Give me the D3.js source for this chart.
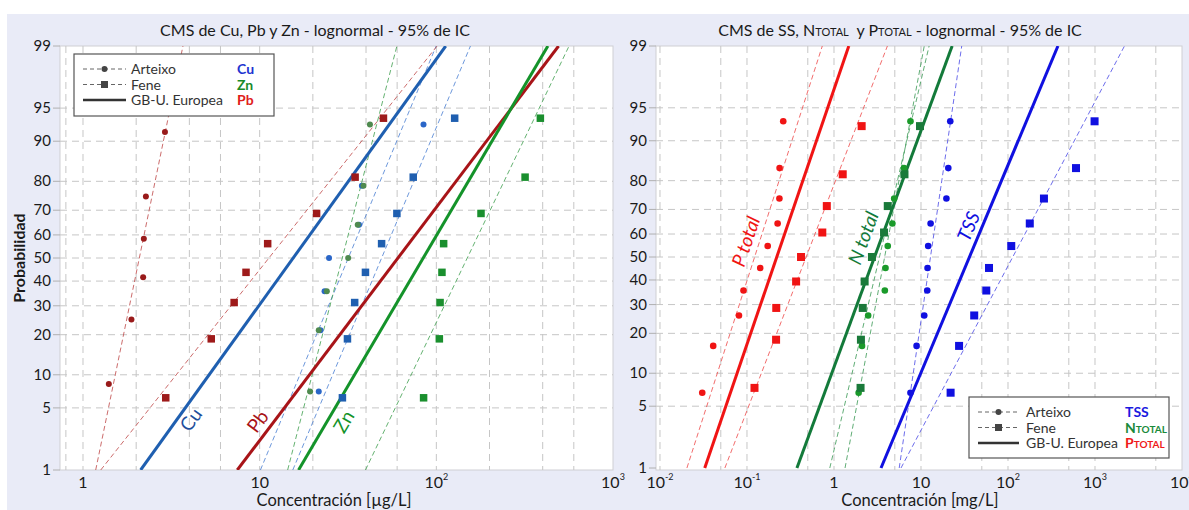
<!DOCTYPE html>
<html>
<head>
<meta charset="utf-8">
<script src="https://cdn.jsdelivr.net/npm/d3@7"></script>
<style>
  body { margin: 0; background: #fff; }
  svg { display: block; font-family: Lato, "Open Sans", sans-serif; }
</style>
</head>
<body>
<svg id="chart" width="1189" height="510"></svg>
<script>
// ---------- data ----------
// plotting positions (%) by sample size
const probN6 = [8.33, 25, 41.67, 58.33, 75, 91.67];
const probN7 = [7.14, 21.43, 35.71, 50, 64.29, 78.57, 92.86];
const probN8 = [6.25, 18.75, 31.25, 43.75, 56.25, 68.75, 81.25, 93.75];
const probN9 = [7.45, 18.09, 28.72, 39.36, 50, 60.64, 71.28, 81.91, 92.55];
const probN10 = [6.73, 16.35, 25.96, 35.58, 45.19, 54.81, 64.42, 74.04, 83.65, 93.27];

// metals, µg/L
const pbArteixo = [1.40, 1.88, 2.19, 2.21, 2.27, 2.91];
const pbFene = [2.94, 5.32, 7.17, 8.37, 11.1, 21.0, 34.7, 50.2];
const cuArteixo = [21.6, 22.1, 23.3, 24.7, 36.5, 37.9, 84.6];
const cuFene = [29.4, 31.4, 34.5, 39.7, 49.0, 59.8, 74.0, 127];
const znArteixo = [19.3, 21.6, 24.0, 31.7, 35.9, 38.7, 42.1];
const znFene = [84.7, 104, 105, 107.6, 110, 179, 318, 388];

// fitted lognormal lines: value at 1% and at 99%
const cuFit = { arteixo: [10.1, 99.8], fene: [15.4, 156], eu: [2.12, 113] };
const pbFit = { arteixo: [1.18, 3.68], fene: [1.26, 101], eu: [7.47, 492] };
const znFit = { arteixo: [14.4, 59.8], fene: [39.7, 564], eu: [16.6, 428] };

// SS, N, P, mg/L
const ptArteixo = [0.0306, 0.0409, 0.0809, 0.0912, 0.142, 0.173, 0.225, 0.236, 0.237, 0.261];
const ptFene = [0.122, 0.216, 0.217, 0.367, 0.418, 0.734, 0.827, 1.26, 2.08];
const ntArteixo = [1.92, 2.10, 2.47, 3.84, 3.91, 4.15, 4.69, 4.92, 6.38, 7.57];
const ntFene = [2.02, 2.04, 2.14, 2.25, 2.73, 3.76, 4.15, 6.46, 9.74];
const tssArteixo = [7.57, 8.90, 10.9, 11.8, 11.9, 12.1, 12.9, 19.6, 20.6, 21.7];
const tssFene = [21.9, 27.4, 40.9, 56.3, 60.5, 109, 178, 259, 605, 989];

const ptFit = { arteixo: [0.0204, 0.734], fene: [0.0557, 4.11], eu: [0.0327, 1.48] };
const ntFit = { arteixo: [1.34, 10.9], fene: [0.895, 12.4], eu: [0.375, 22.8] };
const tssFit = { arteixo: [5.62, 29.4], fene: [5.89, 2183], eu: [3.47, 375] };

const probTicks = [1, 5, 10, 20, 30, 40, 50, 60, 70, 80, 90, 95, 99];
const probGrid = [5, 10, 20, 30, 40, 50, 60, 70, 80, 90, 95];

// inverse normal cdf (Acklam)
function probit(p) {
  const a = [-39.69683028665376, 220.9460984245205, -275.9285104469687, 138.3577518672690, -30.66479806614716, 2.506628277459239];
  const b = [-54.47609879822406, 161.5858368580409, -155.6989798598866, 66.80131188771972, -13.28068155288572];
  const c = [-0.007784894002430293, -0.3223964580411365, -2.400758277161838, -2.549732539343734, 4.374664141464968, 2.938163982698783];
  const d = [0.007784695709041462, 0.3224671290700398, 2.445134137142996, 3.754408661907416];
  const pl = 0.02425;
  let q, r;
  if (p < pl) {
    q = Math.sqrt(-2 * Math.log(p));
    return (((((c[0]*q+c[1])*q+c[2])*q+c[3])*q+c[4])*q+c[5]) / ((((d[0]*q+d[1])*q+d[2])*q+d[3])*q+1);
  }
  if (p > 1 - pl) {
    q = Math.sqrt(-2 * Math.log(1 - p));
    return -(((((c[0]*q+c[1])*q+c[2])*q+c[3])*q+c[4])*q+c[5]) / ((((d[0]*q+d[1])*q+d[2])*q+d[3])*q+1);
  }
  q = p - 0.5; r = q * q;
  return (((((a[0]*r+a[1])*r+a[2])*r+a[3])*r+a[4])*r+a[5])*q / (((((b[0]*r+b[1])*r+b[2])*r+b[3])*r+b[4])*r+1);
}

const svg = d3.select("#chart");
const defs = svg.append("defs");

// panel backgrounds
svg.append("rect").attr("x", 7).attr("y", 14).attr("width", 1182).attr("height", 496).attr("fill", "#e9ebf7");

function drawPanel(cfg) {
  const x = d3.scaleLog().domain(cfg.domain).range([cfg.left, cfg.right]);
  const y = d3.scaleLinear().domain([probit(0.01), probit(0.99)]).range([cfg.yBottom, cfg.top]);
  const py = p => y(probit(p / 100));
  const g = svg.append("g");

  g.append("rect")
    .attr("x", cfg.left).attr("y", cfg.top)
    .attr("width", cfg.right - cfg.left).attr("height", cfg.bottom - cfg.top)
    .attr("fill", "#fff").attr("stroke", "#cfcfd4").attr("stroke-width", 1);

  defs.append("clipPath").attr("id", cfg.id)
    .append("rect").attr("x", cfg.left).attr("y", cfg.top)
    .attr("width", cfg.right - cfg.left).attr("height", cfg.bottom - cfg.top);

  // grid
  g.append("g").selectAll("line").data(cfg.gridX).enter().append("line")
    .attr("x1", d => x(d)).attr("x2", d => x(d))
    .attr("y1", cfg.top).attr("y2", cfg.bottom)
    .attr("stroke", "#c6c6c6").attr("stroke-dasharray", "7,5");
  g.append("g").selectAll("line").data(probGrid).enter().append("line")
    .attr("x1", cfg.left).attr("x2", cfg.right)
    .attr("y1", d => py(d)).attr("y2", d => py(d))
    .attr("stroke", "#c6c6c6").attr("stroke-dasharray", "7,5");

  // y ticks
  const yt = g.append("g");
  yt.selectAll("line").data(probTicks).enter().append("line")
    .attr("x1", cfg.left - 7).attr("x2", cfg.left)
    .attr("y1", d => py(d)).attr("y2", d => py(d))
    .attr("stroke", "#b0b0b0");
  yt.selectAll("text").data(probTicks).enter().append("text")
    .attr("x", cfg.left - 9).attr("y", d => py(d) + 5)
    .attr("text-anchor", "end").attr("font-size", 15).attr("fill", "#1a1a1a")
    .text(d => d);

  if (cfg.yTitle) {
    g.append("text")
      .attr("transform", "translate(25," + py(50) + ") rotate(-90)")
      .attr("text-anchor", "middle").attr("font-size", 16).attr("font-weight", "bold")
      .attr("fill", "#1a1a1a").text(cfg.yTitle);
  }

  // x ticks with exponents
  const xt = g.append("g").selectAll("text").data(cfg.ticksX).enter().append("text")
    .attr("x", d => x(d[0])).attr("y", 488)
    .attr("text-anchor", "middle").attr("font-size", 16).attr("fill", "#1a1a1a");
  xt.append("tspan").text(d => d[1]);
  xt.filter(d => d[2]).append("tspan").attr("dy", -8).attr("font-size", 9).text(d => d[2]);

  // x title
  g.append("text").attr("x", cfg.xTitleX).attr("y", 506)
    .attr("text-anchor", "middle").attr("font-size", 16.5).attr("fill", "#1a1a1a")
    .text(cfg.xTitle);

  // title
  const tt = g.append("text").attr("x", cfg.titleX).attr("y", 36)
    .attr("text-anchor", "middle").attr("font-size", 16).attr("fill", "#1a1a1a")
    .attr("xml:space", "preserve").style("white-space", "pre");
  cfg.title.forEach(part => {
    tt.append("tspan").attr("font-size", part[1] || 16).text(part[0]);
  });

  const plot = g.append("g").attr("clip-path", "url(#" + cfg.id + ")");

  // fitted lines
  cfg.fits.forEach(f => {
    plot.append("line")
      .attr("x1", x(f.v[0])).attr("y1", py(1))
      .attr("x2", x(f.v[1])).attr("y2", py(99))
      .attr("stroke", f.color)
      .attr("stroke-width", f.dash ? 1 : 3)
      .attr("stroke-dasharray", f.dash ? "5,3" : null)
      .attr("opacity", f.dash ? 0.8 : 1);
  });

  // points
  cfg.series.forEach(s => {
    const pts = s.values.map((v, i) => [v, s.probs[i]]);
    if (s.shape === "circle") {
      plot.append("g").selectAll("circle").data(pts).enter().append("circle")
        .attr("cx", d => x(d[0])).attr("cy", d => py(d[1]))
        .attr("r", cfg.circleR).attr("fill", s.color);
    } else {
      plot.append("g").selectAll("rect").data(pts).enter().append("rect")
        .attr("x", d => x(d[0]) - cfg.sq / 2).attr("y", d => py(d[1]) - cfg.sq / 2)
        .attr("width", cfg.sq).attr("height", cfg.sq).attr("fill", s.color);
    }
  });

  // line labels rotated along the EU line
  cfg.labels.forEach(l => {
    const dx = x(l.fit[1]) - x(l.fit[0]);
    const dy = py(99) - py(1);
    const ang = Math.atan2(dy, dx) * 180 / Math.PI;
    const lx = x(l.at[0]), ly = py(l.at[1]);
    plot.append("text")
      .attr("transform", "translate(" + lx + "," + ly + ") rotate(" + ang + ")")
      .attr("text-anchor", "middle").attr("dy", 6)
      .attr("font-size", 19).attr("font-style", l.italic ? "italic" : "normal")
      .attr("fill", l.color).text(l.text);
  });

  // legend
  const L = cfg.legend;
  const lg = g.append("g").attr("transform", "translate(" + L.x + "," + L.y + ")");
  lg.append("rect").attr("width", L.w).attr("height", L.h)
    .attr("fill", "#fff").attr("stroke", "#555").attr("stroke-width", 1.2);
  const rows = [["Arteixo", "circle"], ["Fene", "square"], ["GB-U. Europea", "solid"]];
  rows.forEach((r, i) => {
    const cy = 15 + i * 15.5;
    const row = lg.append("g");
    if (r[1] === "solid") {
      row.append("line").attr("x1", 9).attr("x2", L.lineEnd).attr("y1", cy).attr("y2", cy)
        .attr("stroke", "#333").attr("stroke-width", 2.5);
    } else {
      row.append("line").attr("x1", 9).attr("x2", L.lineEnd).attr("y1", cy).attr("y2", cy)
        .attr("stroke", "#666").attr("stroke-dasharray", "4,3");
      const mx = (9 + L.lineEnd) / 2;
      if (r[1] === "circle") {
        row.append("circle").attr("cx", mx).attr("cy", cy).attr("r", 3).attr("fill", "#444");
      } else {
        row.append("rect").attr("x", mx - 3.5).attr("y", cy - 3.5).attr("width", 7).attr("height", 7).attr("fill", "#444");
      }
    }
    row.append("text").attr("x", 57).attr("y", cy + 5).attr("font-size", 14).attr("fill", "#333").text(r[0]);
    const t = row.append("text").attr("x", L.col).attr("y", cy + 5).attr("font-size", 14)
      .attr("font-weight", "bold").attr("fill", L.names[i][2]);
    t.append("tspan").text(L.names[i][0]);
    if (L.names[i][1]) t.append("tspan").attr("font-size", 10).text(L.names[i][1]);
  });
}

// ---------- left panel ----------
const cuBlue = "#1f5fb0", pbRed = "#a81418", znGreen = "#14932a";
drawPanel({
  id: "clipL",
  domain: [0.741, 1000], left: 60, right: 613, top: 46, bottom: 470, yBottom: 470,
  gridX: [0.8, 1, 2, 4, 6, 10, 20, 40, 60, 100, 200, 400, 600],
  ticksX: [[1, "1"], [10, "10"], [100, "10", "2"], [1000, "10", "3"]],
  title: [["CMS de Cu, Pb y Zn - lognormal - 95% de IC"]], titleX: 315,
  xTitle: "Concentración [µg/L]", xTitleX: 334, yTitle: "Probabilidad",
  circleR: 3, sq: 7.5,
  fits: [
    { v: cuFit.arteixo, color: "#4a7fd4", dash: true },
    { v: cuFit.fene, color: "#4a7fd4", dash: true },
    { v: pbFit.arteixo, color: "#c04848", dash: true },
    { v: pbFit.fene, color: "#c04848", dash: true },
    { v: znFit.arteixo, color: "#3fa04f", dash: true },
    { v: znFit.fene, color: "#3fa04f", dash: true },
    { v: cuFit.eu, color: cuBlue },
    { v: pbFit.eu, color: pbRed },
    { v: znFit.eu, color: znGreen }
  ],
  series: [
    { values: pbArteixo, probs: probN6, color: "#991a1a", shape: "circle" },
    { values: pbFene, probs: probN8, color: "#9e1a1a", shape: "square" },
    { values: cuArteixo, probs: probN7, color: "#2a66c8", shape: "circle" },
    { values: cuFene, probs: probN8, color: cuBlue, shape: "square" },
    { values: znArteixo, probs: probN7, color: "#4f8a4f", shape: "circle" },
    { values: znFene, probs: probN8, color: "#1a8f2e", shape: "square" }
  ],
  labels: [
    { text: "Cu", fit: cuFit.eu, at: [4.11, 3.77], color: "#1f4f9c" },
    { text: "Pb", fit: pbFit.eu, at: [9.82, 3.6], color: pbRed },
    { text: "Zn", fit: znFit.eu, at: [30.2, 3.6], color: znGreen }
  ],
  legend: { x: 74, y: 54, w: 200, h: 62, lineEnd: 52, col: 163,
    names: [["Cu", "", "#2233d0"], ["Zn", "", "#1a8a2a"], ["Pb", "", "#e0201a"]] }
});

// ---------- right panel ----------
const pRed = "#f01414", nGreen = "#137a3a", tssBlue = "#1010e0";
drawPanel({
  id: "clipR",
  domain: [0.009, 10000], left: 656, right: 1182, top: 46, bottom: 470, yBottom: 468,
  gridX: [0.01, 0.05, 0.1, 0.5, 1, 5, 10, 50, 100, 500, 1000, 5000],
  ticksX: [[0.01, "10", "-2"], [0.1, "10", "-1"], [1, "1"], [10, "10"], [100, "10", "2"], [1000, "10", "3"], [10000, "10", "4"]],
  title: [["CMS de SS, N"], ["TOTAL", 11], ["\u00a0\u00a0y P"], ["TOTAL", 11], [" - lognormal - 95% de IC"]], titleX: 900,
  xTitle: "Concentración [mg/L]", xTitleX: 920,
  circleR: 3.3, sq: 8,
  fits: [
    { v: ptFit.arteixo, color: "#f04a4a", dash: true },
    { v: ptFit.fene, color: "#f04a4a", dash: true },
    { v: ntFit.arteixo, color: "#3a9a55", dash: true },
    { v: ntFit.fene, color: "#3a9a55", dash: true },
    { v: tssFit.arteixo, color: "#4a4ae8", dash: true },
    { v: tssFit.fene, color: "#4a4ae8", dash: true },
    { v: ptFit.eu, color: pRed },
    { v: ntFit.eu, color: nGreen },
    { v: tssFit.eu, color: tssBlue }
  ],
  series: [
    { values: ptArteixo, probs: probN10, color: pRed, shape: "circle" },
    { values: ptFene, probs: probN9, color: pRed, shape: "square" },
    { values: ntArteixo, probs: probN10, color: "#1a9a2a", shape: "circle" },
    { values: ntFene, probs: probN9, color: "#1a7a3a", shape: "square" },
    { values: tssArteixo, probs: probN10, color: tssBlue, shape: "circle" },
    { values: tssFene, probs: probN10, color: tssBlue, shape: "square" }
  ],
  labels: [
    { text: "P total", fit: ptFit.eu, at: [0.0987, 56.7], color: pRed, italic: true },
    { text: "N total", fit: ntFit.eu, at: [2.21, 58.2], color: nGreen, italic: true },
    { text: "TSS", fit: tssFit.eu, at: [35.8, 63.1], color: tssBlue, italic: true }
  ],
  legend: { x: 969, y: 397, w: 200, h: 61, lineEnd: 50, col: 156,
    names: [["TSS", "", "#1a1ae0"], ["N", "TOTAL", "#1a8a3a"], ["P", "TOTAL", "#f01a1a"]] }
});
</script>
</body>
</html>
